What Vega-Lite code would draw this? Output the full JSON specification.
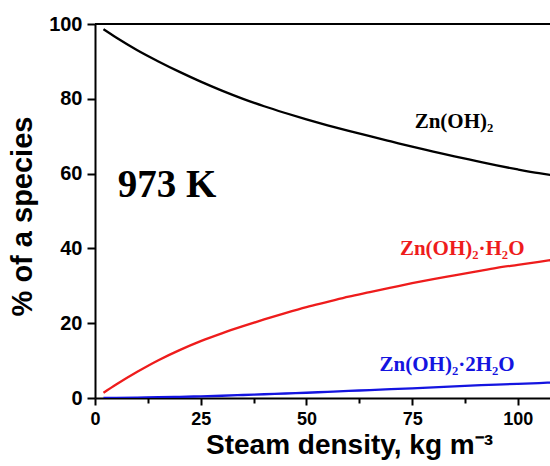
{
  "$schema": "https://vega.github.io/schema/vega-lite/v6.json",
  "width": 455,
  "height": 374,
  "autosize": "none",
  "padding": {"left": 95, "top": 24, "right": 0, "bottom": 68},
  "background": "white",
  "config": {"view": {"stroke": null}, "font": "Liberation Sans"},
  "datasets": {
    "curves": [
      {"density": 2, "pct": 98.6, "species": "Zn(OH)2"},
      {"density": 5, "pct": 96.4, "species": "Zn(OH)2"},
      {"density": 10, "pct": 93.0, "species": "Zn(OH)2"},
      {"density": 15, "pct": 90.0, "species": "Zn(OH)2"},
      {"density": 20, "pct": 87.2, "species": "Zn(OH)2"},
      {"density": 25, "pct": 84.6, "species": "Zn(OH)2"},
      {"density": 30, "pct": 82.2, "species": "Zn(OH)2"},
      {"density": 35, "pct": 80.0, "species": "Zn(OH)2"},
      {"density": 40, "pct": 78.0, "species": "Zn(OH)2"},
      {"density": 45, "pct": 76.2, "species": "Zn(OH)2"},
      {"density": 50, "pct": 74.5, "species": "Zn(OH)2"},
      {"density": 55, "pct": 72.9, "species": "Zn(OH)2"},
      {"density": 60, "pct": 71.4, "species": "Zn(OH)2"},
      {"density": 65, "pct": 70.0, "species": "Zn(OH)2"},
      {"density": 70, "pct": 68.6, "species": "Zn(OH)2"},
      {"density": 75, "pct": 67.2, "species": "Zn(OH)2"},
      {"density": 80, "pct": 65.9, "species": "Zn(OH)2"},
      {"density": 85, "pct": 64.6, "species": "Zn(OH)2"},
      {"density": 90, "pct": 63.4, "species": "Zn(OH)2"},
      {"density": 95, "pct": 62.2, "species": "Zn(OH)2"},
      {"density": 100, "pct": 61.1, "species": "Zn(OH)2"},
      {"density": 105, "pct": 60.1, "species": "Zn(OH)2"},
      {"density": 108, "pct": 59.6, "species": "Zn(OH)2"},
      {"density": 2, "pct": 1.4, "species": "Zn(OH)2·H2O"},
      {"density": 5, "pct": 3.6, "species": "Zn(OH)2·H2O"},
      {"density": 10, "pct": 7.0, "species": "Zn(OH)2·H2O"},
      {"density": 15, "pct": 10.1, "species": "Zn(OH)2·H2O"},
      {"density": 20, "pct": 12.8, "species": "Zn(OH)2·H2O"},
      {"density": 25, "pct": 15.2, "species": "Zn(OH)2·H2O"},
      {"density": 30, "pct": 17.3, "species": "Zn(OH)2·H2O"},
      {"density": 35, "pct": 19.2, "species": "Zn(OH)2·H2O"},
      {"density": 40, "pct": 21.0, "species": "Zn(OH)2·H2O"},
      {"density": 45, "pct": 22.7, "species": "Zn(OH)2·H2O"},
      {"density": 50, "pct": 24.3, "species": "Zn(OH)2·H2O"},
      {"density": 55, "pct": 25.7, "species": "Zn(OH)2·H2O"},
      {"density": 60, "pct": 27.1, "species": "Zn(OH)2·H2O"},
      {"density": 65, "pct": 28.3, "species": "Zn(OH)2·H2O"},
      {"density": 70, "pct": 29.5, "species": "Zn(OH)2·H2O"},
      {"density": 75, "pct": 30.7, "species": "Zn(OH)2·H2O"},
      {"density": 80, "pct": 31.8, "species": "Zn(OH)2·H2O"},
      {"density": 85, "pct": 32.8, "species": "Zn(OH)2·H2O"},
      {"density": 90, "pct": 33.8, "species": "Zn(OH)2·H2O"},
      {"density": 95, "pct": 34.8, "species": "Zn(OH)2·H2O"},
      {"density": 100, "pct": 35.6, "species": "Zn(OH)2·H2O"},
      {"density": 105, "pct": 36.4, "species": "Zn(OH)2·H2O"},
      {"density": 108, "pct": 36.9, "species": "Zn(OH)2·H2O"},
      {"density": 2, "pct": 0.0, "species": "Zn(OH)2·2H2O"},
      {"density": 5, "pct": 0.05, "species": "Zn(OH)2·2H2O"},
      {"density": 10, "pct": 0.1, "species": "Zn(OH)2·2H2O"},
      {"density": 15, "pct": 0.2, "species": "Zn(OH)2·2H2O"},
      {"density": 20, "pct": 0.3, "species": "Zn(OH)2·2H2O"},
      {"density": 25, "pct": 0.45, "species": "Zn(OH)2·2H2O"},
      {"density": 30, "pct": 0.6, "species": "Zn(OH)2·2H2O"},
      {"density": 35, "pct": 0.8, "species": "Zn(OH)2·2H2O"},
      {"density": 40, "pct": 1.0, "species": "Zn(OH)2·2H2O"},
      {"density": 45, "pct": 1.2, "species": "Zn(OH)2·2H2O"},
      {"density": 50, "pct": 1.4, "species": "Zn(OH)2·2H2O"},
      {"density": 55, "pct": 1.65, "species": "Zn(OH)2·2H2O"},
      {"density": 60, "pct": 1.9, "species": "Zn(OH)2·2H2O"},
      {"density": 65, "pct": 2.1, "species": "Zn(OH)2·2H2O"},
      {"density": 70, "pct": 2.35, "species": "Zn(OH)2·2H2O"},
      {"density": 75, "pct": 2.6, "species": "Zn(OH)2·2H2O"},
      {"density": 80, "pct": 2.85, "species": "Zn(OH)2·2H2O"},
      {"density": 85, "pct": 3.1, "species": "Zn(OH)2·2H2O"},
      {"density": 90, "pct": 3.35, "species": "Zn(OH)2·2H2O"},
      {"density": 95, "pct": 3.6, "species": "Zn(OH)2·2H2O"},
      {"density": 100, "pct": 3.8, "species": "Zn(OH)2·2H2O"},
      {"density": 105, "pct": 4.0, "species": "Zn(OH)2·2H2O"},
      {"density": 108, "pct": 4.15, "species": "Zn(OH)2·2H2O"}
    ],
    "labels": [
      {"density": 75.6, "pct": 72.1, "species": "Zn(OH)2", "label": "Zn(OH)₂"},
      {"density": 72.1, "pct": 38.3, "species": "Zn(OH)2·H2O", "label": "Zn(OH)₂·H₂O"},
      {"density": 67.3, "pct": 7.1, "species": "Zn(OH)2·2H2O", "label": "Zn(OH)₂·2H₂O"}
    ],
    "temp": [
      {"density": 5.4, "pct": 53.8, "label": "973 K"}
    ]
  },
  "layer": [
    {
      "data": {"name": "curves"},
      "mark": {"type": "line", "strokeWidth": 2.3, "clip": true, "interpolate": "monotone"},
      "encoding": {
        "x": {
          "field": "density", "type": "quantitative",
          "scale": {"domain": [0, 107.6], "nice": false, "zero": false},
          "axis": {
            "values": [0, 12.5, 25, 37.5, 50, 62.5, 75, 87.5, 100],
            "labelExpr": "datum.value % 25 === 0 ? format(datum.value, 'd') : ''",
            "title": "Steam density, kg m⁻³",
            "titleFont": "Liberation Sans", "titleFontWeight": "bold", "titleFontSize": 28, "titleColor": "black",
            "titleX": 254, "titleY": 55, "titleBaseline": "alphabetic", "titleAnchor": null,
            "labelFont": "Liberation Sans", "labelFontWeight": "bold", "labelFontSize": 18, "labelColor": "black",
            "labelPadding": 5, "labelFlush": false, "labelOverlap": false,
            "domainColor": "black", "domainWidth": 2,
            "tickColor": "black", "tickWidth": 2,
            "tickSize": {"condition": {"test": "datum.value % 25 === 0", "value": 7}, "value": 5},
            "grid": false
          }
        },
        "y": {
          "field": "pct", "type": "quantitative",
          "scale": {"domain": [0, 100], "nice": false},
          "axis": {
            "values": [0, 10, 20, 30, 40, 50, 60, 70, 80, 90, 100],
            "labelExpr": "datum.value % 20 === 0 ? format(datum.value, 'd') : ''",
            "title": "% of a species",
            "titleFont": "Liberation Sans", "titleFontWeight": "bold", "titleFontSize": 29, "titleColor": "black",
            "titleX": -58, "titleY": 192, "titleAnchor": null,
            "labelFont": "Liberation Sans", "labelFontWeight": "bold", "labelFontSize": 20, "labelColor": "black",
            "labelPadding": 5, "labelFlush": false, "labelOverlap": false,
            "domainColor": "black", "domainWidth": 2,
            "tickColor": "black", "tickWidth": 2,
            "tickSize": {"condition": {"test": "datum.value % 20 === 0", "value": 8}, "value": 5},
            "grid": false
          }
        },
        "color": {
          "field": "species", "type": "nominal",
          "scale": {"domain": ["Zn(OH)2", "Zn(OH)2·H2O", "Zn(OH)2·2H2O"], "range": ["#000000", "#ee1c1c", "#1414e0"]},
          "legend": null
        }
      }
    },
    {
      "data": {"values": [{}]},
      "mark": {"type": "rule", "color": "black", "strokeWidth": 2},
      "encoding": {"y": {"datum": 100}}
    },
    {
      "data": {"name": "labels"},
      "mark": {"type": "text", "font": "Liberation Serif", "fontWeight": "bold", "fontSize": 21, "align": "left", "baseline": "alphabetic"},
      "encoding": {
        "x": {"field": "density", "type": "quantitative"},
        "y": {"field": "pct", "type": "quantitative"},
        "text": {"field": "label"},
        "color": {
          "field": "species", "type": "nominal",
          "scale": {"domain": ["Zn(OH)2", "Zn(OH)2·H2O", "Zn(OH)2·2H2O"], "range": ["#000000", "#ee1c1c", "#1414e0"]},
          "legend": null
        }
      }
    },
    {
      "data": {"name": "temp"},
      "mark": {"type": "text", "font": "Liberation Serif", "fontWeight": "bold", "fontSize": 39, "align": "left", "baseline": "alphabetic", "color": "black"},
      "encoding": {
        "x": {"field": "density", "type": "quantitative"},
        "y": {"field": "pct", "type": "quantitative"},
        "text": {"field": "label"}
      }
    }
  ]
}
